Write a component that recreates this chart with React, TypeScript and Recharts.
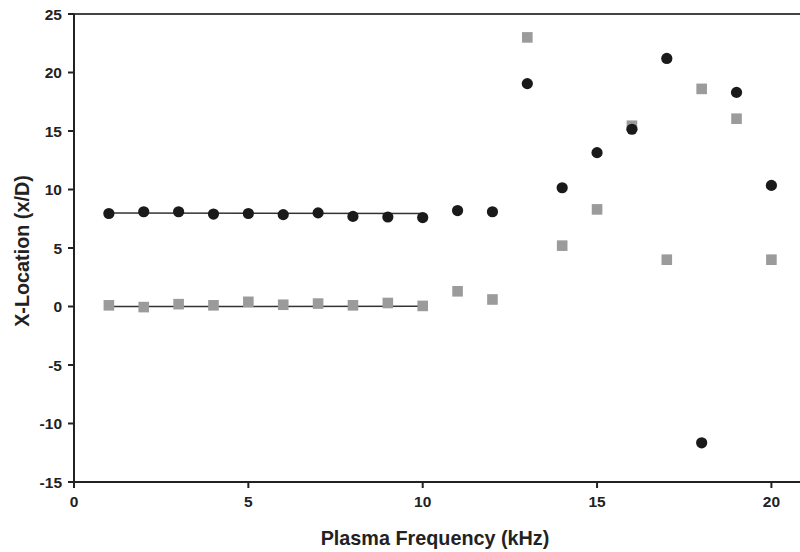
import React from 'react';
import { ComposedChart, Scatter, Line, XAxis, YAxis, ReferenceLine } from 'recharts';

const frequencies = [1, 2, 3, 4, 5, 6, 7, 8, 9, 10, 11, 12, 13, 14, 15, 16, 17, 18, 19, 20];
const circleValues = [7.95, 8.1, 8.1, 7.9, 7.95, 7.85, 8.0, 7.7, 7.65, 7.6, 8.2, 8.1, 19.05, 10.15, 13.15, 15.15, 21.2, -11.65, 18.3, 10.35];
const squareValues = [0.1, -0.05, 0.2, 0.1, 0.4, 0.15, 0.25, 0.1, 0.3, 0.05, 1.3, 0.6, 23.0, 5.2, 8.3, 15.45, 4.0, 18.6, 16.05, 4.0];
const circleFitX = [1, 10];
const circleFitY = [8.0, 7.95];
const squareFitX = [1, 10];
const squareFitY = [0.0, 0.02];
const xTicks = [0, 5, 10, 15, 20];
const yTicks = [-15, -10, -5, 0, 5, 10, 15, 20, 25];
const xLabel = 'Plasma Frequency (kHz)';
const yLabel = 'X-Location (x/D)';

const circleData = frequencies.map((x, i) => ({ x, y: circleValues[i] }));
const squareData = frequencies.map((x, i) => ({ x, y: squareValues[i] }));
const circleFit = circleFitX.map((x, i) => ({ x, y: circleFitY[i] }));
const squareFit = squareFitX.map((x, i) => ({ x, y: squareFitY[i] }));

const font = '"Liberation Sans", Arial, sans-serif';
const textColor = '#222';

const CircleShape = (p: any) => <circle cx={p.cx} cy={p.cy} r={5.6} fill="#1a1a1a" />;
const SquareShape = (p: any) => <rect x={p.cx - 5.3} y={p.cy - 5.3} width={10.6} height={10.6} fill="#9b9b9b" />;

const XTick = (p: any) => (
  <text x={p.x} y={p.y} dy={14} textAnchor="middle" fill={textColor} fontSize={15.5} fontWeight="bold" fontFamily={font}>
    {p.payload.value}
  </text>
);
const YTick = (p: any) => (
  <text x={p.x} y={p.y} dy={5.5} textAnchor="end" fill={textColor} fontSize={15.5} fontWeight="bold" fontFamily={font}>
    {p.payload.value}
  </text>
);

const XLabel = (p: any) => {
  const vb = p.viewBox || {};
  const cx = (vb.x ?? 74) + (vb.width ?? 726) / 2 - 2;
  return (
    <text x={cx} y={544.5} textAnchor="middle" fill={textColor} fontSize={19.8} fontWeight="bold" fontFamily={font}>
      {xLabel}
    </text>
  );
};
const YLabel = () => (
  <text x={0} y={0} transform="translate(29, 251) rotate(-90)" textAnchor="middle" fill={textColor} fontSize={19.8} fontWeight="bold" fontFamily={font}>
    {yLabel}
  </text>
);

export default function App() {
  return (
    <div style={{ position: 'absolute', left: 0, top: 0, width: 800, height: 552, background: '#fff' }}>
      <ComposedChart width={800} height={552} margin={{ top: 14, right: 0, bottom: 20, left: 0 }}>
        <XAxis
          type="number"
          dataKey="x"
          domain={[0, 20.82]}
          ticks={xTicks}
          allowDataOverflow
          stroke="#222"
          strokeWidth={2}
          tickSize={6}
          tickMargin={5}
          height={50}
          tick={XTick}
          label={<XLabel />}
        />
        <YAxis
          type="number"
          dataKey="y"
          domain={[-15, 25]}
          ticks={yTicks}
          allowDataOverflow
          width={74}
          stroke="#222"
          strokeWidth={2}
          tickSize={6}
          tickMargin={6}
          tick={YTick}
          label={<YLabel />}
        />
        <ReferenceLine y={25} stroke="#444" strokeWidth={2} />
        <Line data={circleFit} dataKey="y" stroke="#333" strokeWidth={1.5} dot={false} isAnimationActive={false} />
        <Line data={squareFit} dataKey="y" stroke="#333" strokeWidth={1.5} dot={false} isAnimationActive={false} />
        <Scatter data={squareData} dataKey="y" shape={SquareShape} isAnimationActive={false} />
        <Scatter data={circleData} dataKey="y" shape={CircleShape} isAnimationActive={false} />
      </ComposedChart>
    </div>
  );
}
